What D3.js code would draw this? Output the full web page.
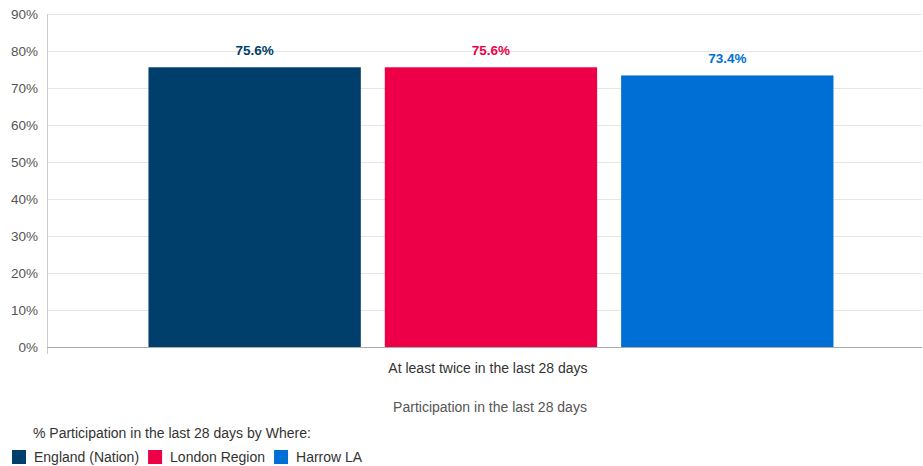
<!DOCTYPE html>
<html><head><meta charset="utf-8">
<script src="https://cdn.jsdelivr.net/npm/d3@7"></script>
<style>body{margin:0;background:#fff;font-family:"Liberation Sans",Arial,sans-serif}</style>
</head><body><svg id="c" width="923" height="466"></svg>
<script>
const categories = ["At least twice in the last 28 days"];
const seriesNames = ["England (Nation)", "London Region", "Harrow LA"];
const seriesValues = [75.6, 75.6, 73.4];
const seriesColors = ["#003e6b", "#ee0048", "#006fd5"];
const yTicks = [0,10,20,30,40,50,60,70,80,90];
const axisTitle = "Participation in the last 28 days";
const legendTitle = "% Participation in the last 28 days by Where:";

const svg = d3.select("#c");
const L = 47, R = 922, T = 14, B = 347;
const y = d3.scaleLinear().domain([0,90]).range([B,T]);
const x0 = d3.scaleBand().domain(categories).range([L,R]).paddingInner(0).paddingOuter(0.1387).align(0.534);
const x1 = d3.scaleBand().domain(seriesNames).range([0,x0.bandwidth()]).paddingInner(0.1015).paddingOuter(0);

// grid
svg.append("g").selectAll("line").data(yTicks.filter(d=>d>0)).join("line")
  .attr("x1",L).attr("x2",R).attr("y1",d=>Math.round(y(d))+0.5).attr("y2",d=>Math.round(y(d))+0.5)
  .attr("stroke","#e6e6e6");
// left axis line
svg.append("line").attr("x1",L+0.5).attr("x2",L+0.5).attr("y1",T).attr("y2",B+7).attr("stroke","#ccc");
// y tick labels
svg.append("g").selectAll("text").data(yTicks).join("text")
  .attr("x",L-9).attr("y",d=>y(d)+4.5).attr("text-anchor","end")
  .attr("font-size",13.5).attr("fill","#555").text(d=>d+"%");

// bars
const g = svg.append("g");
categories.forEach(c=>{
  seriesNames.forEach((s,i)=>{
    g.append("rect").attr("x",x0(c)+x1(s)).attr("y",y(seriesValues[i]))
      .attr("width",x1.bandwidth()).attr("height",B-y(seriesValues[i]))
      .attr("fill",seriesColors[i]);
    g.append("text").attr("x",x0(c)+x1(s)+x1.bandwidth()/2).attr("y",y(seriesValues[i])-12)
      .attr("text-anchor","middle").attr("font-size",13.5).attr("font-weight","bold")
      .attr("fill",seriesColors[i]).text(seriesValues[i].toFixed(1)+"%");
  });
  svg.append("text").attr("x",x0(c)+x0.bandwidth()/2-3).attr("y",373).attr("text-anchor","middle")
    .attr("font-size",14).attr("fill","#333").text(c);
});
// baseline
svg.append("line").attr("x1",L).attr("x2",R).attr("y1",B+0.5).attr("y2",B+0.5).attr("stroke","#aaa");

// axis title
svg.append("text").attr("x",490).attr("y",412).attr("text-anchor","middle")
  .attr("font-size",14).attr("fill","#555").text(axisTitle);

// legend
svg.append("text").attr("x",33).attr("y",438).attr("font-size",14).attr("fill","#333").text(legendTitle);
let lx = 12;
seriesNames.forEach((s,i)=>{
  svg.append("rect").attr("x",lx).attr("y",450).attr("width",14).attr("height",14).attr("fill",seriesColors[i]);
  const t = svg.append("text").attr("x",lx+22).attr("y",462).attr("font-size",14).attr("fill","#333").text(s);
  lx += 22 + t.node().getComputedTextLength() + 9;
});
</script></body></html>
